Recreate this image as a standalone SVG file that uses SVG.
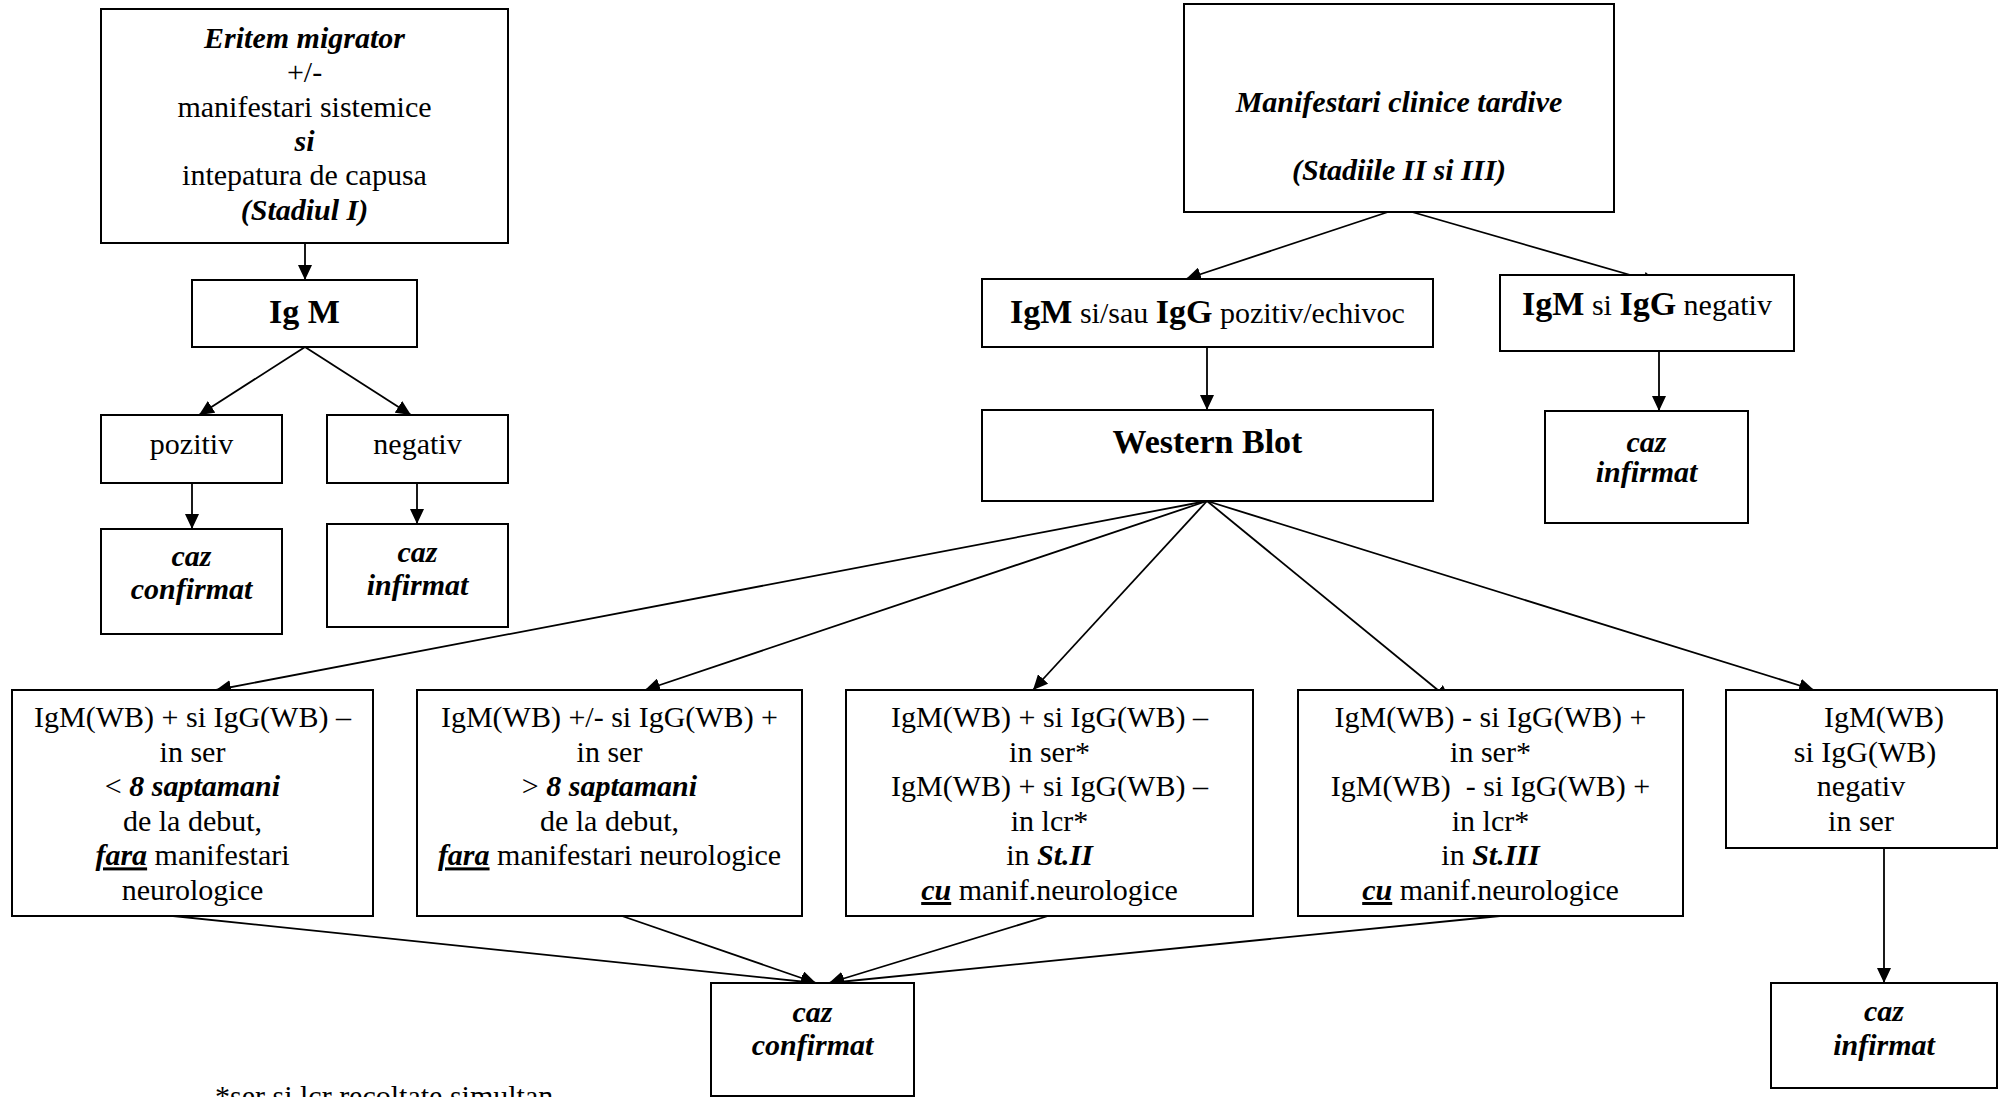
<svg xmlns="http://www.w3.org/2000/svg" width="2003" height="1097" viewBox="0 0 2003 1097">
<style>
.box{fill:#fff;stroke:#000;stroke-width:2}
.t{font-family:"Liberation Serif","Times New Roman",serif;font-size:30px;fill:#000;text-anchor:middle}
.bi{font-weight:bold;font-style:italic}
.b{font-weight:bold;font-size:34px}
.u{text-decoration:underline}
.c{stroke:#000;stroke-width:1.8;fill:none;marker-end:url(#ah)}
</style>
<defs>
<marker id="ah" markerWidth="16" markerHeight="14" refX="15" refY="7" orient="auto" markerUnits="userSpaceOnUse">
<path d="M0,0 L15,7 L0,14 z" fill="#000"/>
</marker>
</defs>
<rect width="2003" height="1097" fill="#fff"/>

<g id="connectors">
<line class="c" x1="305" y1="243" x2="305" y2="280"/>
<line class="c" x1="305" y1="347" x2="199" y2="415"/>
<line class="c" x1="305" y1="347" x2="411" y2="415"/>
<line class="c" x1="192" y1="483" x2="192" y2="529"/>
<line class="c" x1="417" y1="483" x2="417" y2="524"/>
<line class="c" x1="1388" y1="212" x2="1186" y2="279"/>
<line class="c" x1="1412" y1="212" x2="1658" y2="283"/>
<line class="c" x1="1207" y1="347" x2="1207" y2="410"/>
<line class="c" x1="1659" y1="351" x2="1659" y2="411"/>
<line class="c" x1="1207" y1="501" x2="216" y2="690"/>
<line class="c" x1="1207" y1="501" x2="645" y2="690"/>
<line class="c" x1="1207" y1="501" x2="1033" y2="690"/>
<line class="c" x1="1207" y1="501" x2="1450" y2="700"/>
<line class="c" x1="1207" y1="501" x2="1814" y2="690"/>
<line class="c" x1="173" y1="916" x2="816" y2="983"/>
<line class="c" x1="622" y1="916" x2="816" y2="983"/>
<line class="c" x1="1048" y1="916" x2="829" y2="983"/>
<line class="c" x1="1500" y1="916" x2="829" y2="983"/>
<line class="c" x1="1884" y1="848" x2="1884" y2="983"/>
</g>

<g id="stadiul1">
<rect class="box" x="101" y="9" width="407" height="234"/>
<text class="t" x="304.5" y="48"><tspan class="bi">Eritem migrator</tspan></text>
<text class="t" x="304.5" y="82">+/-</text>
<text class="t" x="304.5" y="117">manifestari sistemice</text>
<text class="t bi" x="304.5" y="151">si</text>
<text class="t" x="304.5" y="185">intepatura de capusa</text>
<text class="t bi" x="304.5" y="220">(Stadiul I)</text>
</g>

<g id="igm">
<rect class="box" x="192" y="280" width="225" height="67"/>
<text class="t b" x="304.5" y="323">Ig M</text>
</g>

<g id="pozitiv">
<rect class="box" x="101" y="415" width="181" height="68"/>
<text class="t" x="191.5" y="454">pozitiv</text>
</g>

<g id="negativ">
<rect class="box" x="327" y="415" width="181" height="68"/>
<text class="t" x="417.5" y="454">negativ</text>
</g>

<g id="caz-confirmat-1">
<rect class="box" x="101" y="529" width="181" height="105"/>
<text class="t bi" x="191.5" y="566">caz</text>
<text class="t bi" x="191.5" y="599">confirmat</text>
</g>

<g id="caz-infirmat-1">
<rect class="box" x="327" y="524" width="181" height="103"/>
<text class="t bi" x="417.5" y="562">caz</text>
<text class="t bi" x="417.5" y="595">infirmat</text>
</g>

<g id="tardive">
<rect class="box" x="1184" y="4" width="430" height="208"/>
<text class="t bi" x="1399" y="112">Manifestari clinice tardive</text>
<text class="t bi" x="1399" y="180">(Stadiile II si III)</text>
</g>

<g id="pozitiv-echivoc">
<rect class="box" x="982" y="279" width="451" height="68"/>
<text class="t" x="1207.5" y="323"><tspan class="b">IgM</tspan> si/sau <tspan class="b">IgG</tspan> pozitiv/echivoc</text>
</g>

<g id="igm-igg-negativ">
<rect class="box" x="1500" y="275" width="294" height="76"/>
<text class="t" x="1647" y="315"><tspan class="b">IgM</tspan> si <tspan class="b">IgG</tspan> negativ</text>
</g>

<g id="western-blot">
<rect class="box" x="982" y="410" width="451" height="91"/>
<text class="t b" x="1207.5" y="453">Western Blot</text>
</g>

<g id="caz-infirmat-2">
<rect class="box" x="1545" y="411" width="203" height="112"/>
<text class="t bi" x="1646.5" y="452">caz</text>
<text class="t bi" x="1646.5" y="482">infirmat</text>
</g>

<g id="wb1">
<rect class="box" x="12" y="690" width="361" height="226"/>
<text class="t" x="192.5" y="727">IgM(WB) + si IgG(WB) –</text>
<text class="t" x="192.5" y="761.6">in ser</text>
<text class="t" x="192.5" y="796.2">&lt; <tspan class="bi">8 saptamani</tspan></text>
<text class="t" x="192.5" y="830.8">de la debut,</text>
<text class="t" x="192.5" y="865.4"><tspan class="bi u">fara</tspan> manifestari</text>
<text class="t" x="192.5" y="900">neurologice</text>
</g>

<g id="wb2">
<rect class="box" x="417" y="690" width="385" height="226"/>
<text class="t" x="609.5" y="727">IgM(WB) +/- si IgG(WB) +</text>
<text class="t" x="609.5" y="761.6">in ser</text>
<text class="t" x="609.5" y="796.2">&gt; <tspan class="bi">8 saptamani</tspan></text>
<text class="t" x="609.5" y="830.8">de la debut,</text>
<text class="t" x="609.5" y="865.4"><tspan class="bi u">fara</tspan> manifestari neurologice</text>
</g>

<g id="wb3">
<rect class="box" x="846" y="690" width="407" height="226"/>
<text class="t" x="1049.5" y="727">IgM(WB) + si IgG(WB) –</text>
<text class="t" x="1049.5" y="761.6">in ser*</text>
<text class="t" x="1049.5" y="796.2">IgM(WB) + si IgG(WB) –</text>
<text class="t" x="1049.5" y="830.8">in lcr*</text>
<text class="t" x="1049.5" y="865.4">in <tspan class="bi">St.II</tspan></text>
<text class="t" x="1049.5" y="900"><tspan class="bi u">cu</tspan> manif.neurologice</text>
</g>

<g id="wb4">
<rect class="box" x="1298" y="690" width="385" height="226"/>
<text class="t" x="1490.5" y="727">IgM(WB) - si IgG(WB) +</text>
<text class="t" x="1490.5" y="761.6">in ser*</text>
<text class="t" x="1490.5" y="796.2" xml:space="preserve">IgM(WB)  - si IgG(WB) +</text>
<text class="t" x="1490.5" y="830.8">in lcr*</text>
<text class="t" x="1490.5" y="865.4">in <tspan class="bi">St.III</tspan></text>
<text class="t" x="1490.5" y="900"><tspan class="bi u">cu</tspan> manif.neurologice</text>
</g>

<g id="wb5">
<rect class="box" x="1726" y="690" width="271" height="158"/>
<text class="t" x="1884" y="727">IgM(WB)</text>
<text class="t" x="1865" y="761.6">si IgG(WB)</text>
<text class="t" x="1861" y="796.2">negativ</text>
<text class="t" x="1861" y="830.8">in ser</text>
</g>

<g id="caz-confirmat-2">
<rect class="box" x="711" y="983" width="203" height="113"/>
<text class="t bi" x="812.5" y="1022">caz</text>
<text class="t bi" x="812.5" y="1055">confirmat</text>
</g>

<g id="caz-infirmat-3">
<rect class="box" x="1771" y="983" width="226" height="105"/>
<text class="t bi" x="1884" y="1021">caz</text>
<text class="t bi" x="1884" y="1055">infirmat</text>
</g>

<g id="footnote">
<text class="t" x="215" y="1106" style="text-anchor:start">*ser si lcr recoltate simultan</text>
</g>
</svg>
